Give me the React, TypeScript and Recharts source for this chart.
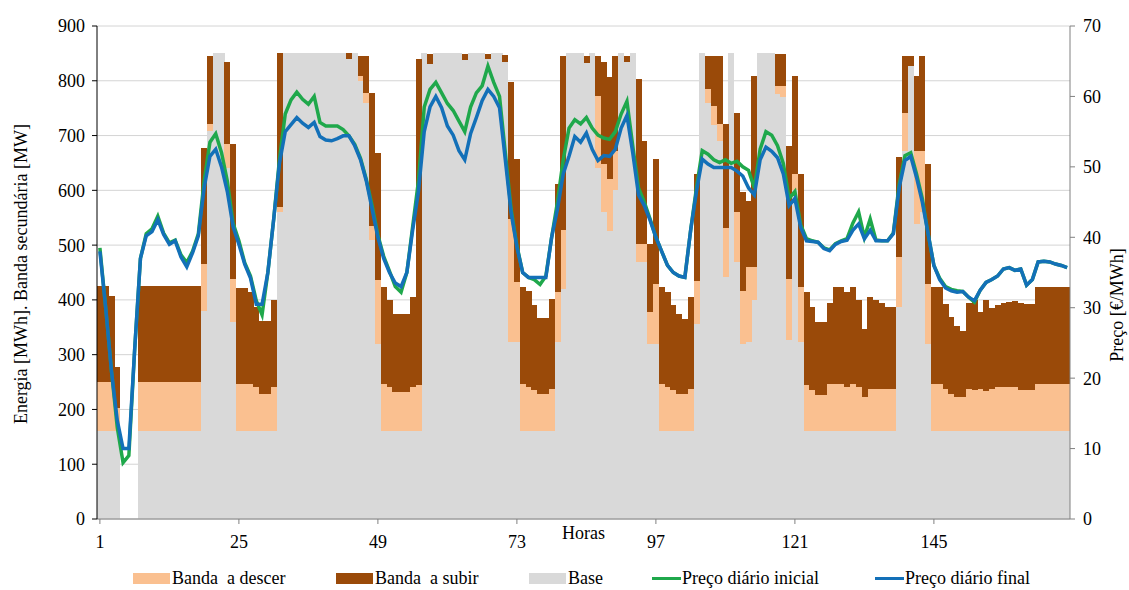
import { Bar, CartesianGrid, ComposedChart, Line, XAxis, YAxis } from "recharts";

// one week, hourly
const hours = Array.from({ length: 168 }, (_, i) => i + 1);

// Base (MWh)
const base = [
  160, 160, 160, 160, 0, 0, 0, 160, 160, 160, 160, 160, 160, 160, 160, 160, 160, 160, 380, 709, 850, 850, 640, 360,
  160, 160, 160, 160, 160, 160, 160, 560, 850, 850, 850, 850, 850, 850, 850, 850, 850, 850, 850, 840, 850, 800, 760, 510,
  320, 160, 160, 160, 160, 160, 160, 160, 850, 830, 850, 850, 850, 850, 850, 838, 850, 850, 850, 840, 850, 850, 835, 323,
  323, 160, 160, 160, 160, 160, 160, 323, 420, 850, 850, 850, 833, 850, 640, 560, 526, 600, 850, 835, 850, 470, 470, 320,
  320, 160, 160, 160, 160, 160, 160, 356, 850, 760, 720, 690, 441, 850, 469, 320, 323, 400, 850, 850, 850, 775, 770, 326,
  600, 323, 160, 160, 160, 160, 160, 160, 160, 160, 160, 160, 160, 160, 160, 160, 160, 160, 387, 672, 827, 538, 560, 320,
  160, 160, 160, 160, 160, 160, 160, 160, 160, 160, 160, 160, 160, 160, 160, 160, 160, 160, 160, 160, 160, 160, 160, 160,
];

// Banda a descer (MW)
const bandaDescer = [
  90, 90, 90, 42, 0, 0, 0, 90, 90, 90, 90, 90, 90, 90, 90, 90, 90, 90, 86, 12, 0, 0, 44, 78,
  87, 87, 87, 81, 69, 69, 81, 9, 0, 0, 0, 0, 0, 0, 0, 0, 0, 0, 0, 0, 0, 9, 18, 25,
  117, 87, 81, 72, 72, 72, 81, 85, 0, 0, 0, 0, 0, 0, 0, 0, 0, 0, 0, 0, 0, 0, 0, 225,
  109, 87, 81, 75, 69, 69, 78, 91, 107, 0, 0, 0, 0, 0, 132, 88, 94, 72, 0, 0, 0, 32, 32, 58,
  109, 87, 81, 75, 69, 69, 78, 79, 0, 25, 34, 31, 91, 0, 91, 97, 137, 60, 0, 0, 0, 15, 20, 112,
  30, 100, 84, 75, 66, 66, 87, 87, 87, 81, 87, 81, 63, 78, 78, 78, 78, 78, 91, 70, 0, 134, 112, 109,
  87, 87, 78, 69, 63, 63, 78, 75, 78, 74, 78, 81, 81, 81, 81, 76, 76, 76, 87, 87, 87, 87, 87, 87,
];

// Banda a subir (MW)
const bandaSubir = [
  175, 175, 158, 75, 0, 0, 0, 175, 175, 175, 175, 175, 175, 175, 175, 175, 175, 175, 212, 124, 0, 0, 151, 246,
  175, 175, 167, 146, 133, 133, 158, 281, 0, 0, 0, 0, 0, 0, 0, 0, 0, 0, 0, 10, 0, 36, 67, 243,
  232, 176, 158, 143, 143, 143, 164, 595, 0, 18, 0, 0, 0, 0, 0, 10, 0, 0, 0, 8, 0, 0, 12, 249,
  225, 176, 176, 155, 138, 138, 164, 197, 318, 0, 0, 0, 12, 0, 73, 187, 186, 173, 0, 10, 0, 301, 188, 124,
  228, 176, 173, 155, 146, 137, 167, 195, 0, 60, 91, 124, 189, 0, 182, 180, 121, 349, 0, 0, 0, 58, 58, 243,
  179, 207, 170, 152, 133, 133, 148, 176, 176, 173, 176, 158, 124, 168, 161, 156, 149, 149, 182, 103, 18, 137, 173, 219,
  176, 176, 155, 139, 130, 121, 157, 165, 140, 166, 147, 149, 154, 155, 157, 158, 157, 157, 176, 176, 176, 176, 176, 176,
];

// Preço diário inicial (€/MWh)
const precoInicial = [
  38.5, 30, 21, 13, 8, 9, 24, 37, 40.5, 41.2, 43, 40.6, 39.2, 39.6, 37.5, 36.4, 38, 40.5, 48, 53.5, 54.7, 52, 48, 42,
  39.5, 36.4, 34.5, 31, 29, 35, 42.5, 51, 57.5, 59.5, 60.6, 59.6, 58.9, 60, 56.3, 55.8, 55.8, 55.8, 55.3, 54.4, 53.2, 51.2, 48.2, 44.5,
  40.3, 37.3, 35.2, 33, 32.2, 35, 41.5, 48, 58.5, 61, 62, 60.5, 59, 58, 56.5, 55, 58.5, 60.5, 61.5, 64.3, 62, 60, 52, 44,
  38.8, 35, 34.3, 34, 33.3, 34.5, 40, 45, 51, 55.5, 56.7, 56.1, 57, 55.5, 54.5, 54.1, 53.9, 55, 57.5, 59.3, 53, 47, 45, 42.6,
  40, 38, 36, 35, 34.5, 34.3, 41, 47, 52.3, 51.8, 51, 50.6, 51, 50.5, 50.8, 50, 49.5, 47, 52.5, 55, 54.5, 53, 50.5, 45.5,
  46.5, 41.8, 39.8, 39.5, 39.3, 38.5, 38.2, 39.1, 39.5, 39.8, 42, 43.6, 40, 42.6, 39.6, 39.5, 39.5, 40.6, 47.5, 51.6, 52, 49, 45.5, 40.5,
  36, 34.2, 33, 32.6, 32.4, 32.3, 31.5, 30.8, 32.5, 33.6, 34, 34.5, 35.5, 35.7, 35.3, 35.5, 33.2, 34, 36.5, 36.6, 36.5, 36.2, 36, 35.7,
];

// Preço diário final (€/MWh)
const precoFinal = [
  38, 30, 21, 14, 10, 10, 24, 37, 40.2, 40.8, 42.5, 40.4, 39, 39.5, 37.2, 35.8, 37.8, 40.2, 47, 51.5, 52.5, 50, 46.5, 41.5,
  39, 36.2, 34.2, 30.5, 30.5, 35, 42.5, 50.5, 55, 56, 57, 56.2, 55.6, 56.3, 54.3, 53.8, 53.7, 54, 54.4, 54.4, 53, 51, 48, 44,
  40, 37, 35, 33.5, 33, 35, 41, 46.5, 55, 58.5, 60, 58.4, 55.8, 54.5, 52.3, 51, 54.7, 57, 59.4, 61, 60, 58.4, 51, 43.5,
  38.6, 35, 34.3, 34.3, 34.3, 34.3, 40, 44, 49, 51.5, 54.3, 53.5, 54.8, 52.5, 50.9, 51.6, 51.5, 52.5, 55.5, 57.3, 52, 46, 44.5, 42.4,
  40, 38, 36, 35, 34.5, 34.3, 41, 46.5, 51.1, 50.4, 49.9, 49.9, 49.9, 49.9, 49.4, 48.7, 47, 46, 51, 52.8, 52.2, 51.3, 49, 44.5,
  45.5, 41.4, 39.5, 39.4, 39.3, 38.4, 38.1, 39, 39.4, 39.6, 41, 41.9, 39.8, 41, 39.5, 39.5, 39.5, 40.5, 47, 50.9, 51.5, 48.5, 45, 40.5,
  36, 34, 32.8, 32.4, 32.2, 32.3, 31.5, 31, 32.5, 33.6, 34, 34.5, 35.5, 35.7, 35.3, 35.5, 33.2, 34, 36.5, 36.6, 36.5, 36.2, 36, 35.7,
];

const energyTicks = [0, 100, 200, 300, 400, 500, 600, 700, 800, 900];
const priceTicks = [0, 10, 20, 30, 40, 50, 60, 70];

const COLORS = {
  descer: "#fac090",
  subir: "#9a4a09",
  base: "#d9d9d9",
  inicial: "#1fa84b",
  final: "#1370b8",
};

const legendItems = [
  { name: "Banda  a descer", color: COLORS.descer, kind: "rect", left: 133 },
  { name: "Banda  a subir", color: COLORS.subir, kind: "rect", left: 336 },
  { name: "Base", color: COLORS.base, kind: "rect", left: 529 },
  { name: "Preço diário inicial", color: COLORS.inicial, kind: "line", left: 652 },
  { name: "Preço diário final", color: COLORS.final, kind: "line", left: 875 },
];

const data = hours.map((hour, i) => ({
  hour,
  base: base[i],
  descer: bandaDescer[i],
  subir: bandaSubir[i],
  inicial: precoInicial[i],
  final: precoFinal[i],
}));

const FONT = "'Liberation Serif', 'Times New Roman', serif";
const tickStyle = { fill: "#000", fontSize: 18, fontFamily: FONT };

// rotated axis title; recharts hands its own x/y to label content, so use other names
function VerticalTitle({ cx, cy, text }: { cx: number; cy: number; text: string }) {
  return (
    <text
      x={cx}
      y={cy}
      transform={`rotate(-90 ${cx} ${cy})`}
      textAnchor="middle"
      dominantBaseline="central"
      fill="#000"
      fontSize={18}
      fontFamily={FONT}
    >
      {text}
    </text>
  );
}

function ChartLegend() {
  return (
    <>
      {legendItems.map((item) => (
        <div
          key={item.name}
          style={{
            position: "absolute",
            left: item.left,
            top: 567,
            height: 22,
            display: "flex",
            alignItems: "center",
            fontFamily: FONT,
            fontSize: 18,
            whiteSpace: "pre",
            color: "#000",
          }}
        >
          {item.kind === "rect" ? (
            <span style={{ width: 37, height: 11, background: item.color, marginRight: 2 }} />
          ) : (
            <span style={{ width: 29, height: 3, background: item.color, marginRight: 1 }} />
          )}
          {item.name}
        </div>
      ))}
    </>
  );
}

export default function App() {
  return (
    <div
      style={{
        position: "absolute",
        left: 0,
        top: 0,
        width: 1129,
        height: 590,
        background: "#fff",
      }}
    >
      <style>{`.recharts-bar-rectangle path { shape-rendering: crispEdges; }`}</style>
      <ComposedChart
        width={1129}
        height={590}
        data={data}
        margin={{ top: 26, right: 0, bottom: 0, left: 0 }}
        barCategoryGap={0}
        barGap={0}
      >
        <CartesianGrid yAxisId="left" vertical={false} stroke="#d4d4d4" />
        <XAxis
          dataKey="hour"
          interval={23}
          height={71}
          tick={tickStyle}
          tickSize={5}
          tickMargin={11}
          stroke="#808080"
          label={{ value: "Horas", position: "insideTop", offset: 7, fill: "#000", fontSize: 18, fontFamily: FONT }}
        />
        <YAxis
          yAxisId="left"
          width={97}
          domain={[0, 900]}
          ticks={energyTicks}
          tick={tickStyle}
          tickSize={5}
          tickMargin={7}
          stroke="#000"
          label={<VerticalTitle cx={21} cy={274} text="Energia [MWh]. Banda secundária [MW]" />}
        />
        <YAxis
          yAxisId="right"
          orientation="right"
          width={59}
          domain={[0, 70]}
          ticks={priceTicks}
          tick={tickStyle}
          tickSize={5}
          tickMargin={8}
          stroke="#808080"
          label={<VerticalTitle cx={1117} cy={305} text="Preço [€/MWh]" />}
        />
        <Bar yAxisId="left" dataKey="base" name="Base" stackId="e" fill={COLORS.base} isAnimationActive={false} />
        <Bar yAxisId="left" dataKey="descer" name="Banda  a descer" stackId="e" fill={COLORS.descer} isAnimationActive={false} />
        <Bar yAxisId="left" dataKey="subir" name="Banda  a subir" stackId="e" fill={COLORS.subir} isAnimationActive={false} />
        <Line
          yAxisId="right"
          type="linear"
          dataKey="inicial"
          name="Preço diário inicial"
          stroke={COLORS.inicial}
          strokeWidth={3.5}
          dot={false}
          isAnimationActive={false}
        />
        <Line
          yAxisId="right"
          type="linear"
          dataKey="final"
          name="Preço diário final"
          stroke={COLORS.final}
          strokeWidth={3.5}
          dot={false}
          isAnimationActive={false}
        />
      </ComposedChart>
      <ChartLegend />
    </div>
  );
}
